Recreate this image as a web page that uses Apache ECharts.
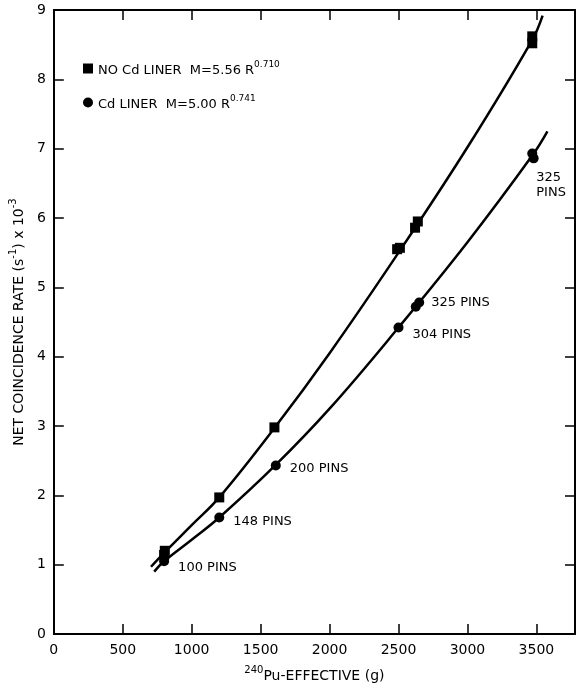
<!DOCTYPE html>
<html><head><meta charset="utf-8">
<script src="https://cdn.jsdelivr.net/npm/echarts@6/dist/echarts.min.js"></script>
<style>html,body{margin:0;padding:0;background:#fff}#c{width:584px;height:692px}</style>
</head><body><div id="c"></div>
<script>
// Data
const noCdPoints = [[800,1.14],[805,1.2],[1200,1.97],[1600,2.98],[2490,5.55],[2510,5.57],[2620,5.86],[2640,5.95],[3470,8.52],[3470,8.62]];
const cdPoints = [[800,1.05],[1200,1.68],[1610,2.43],[2500,4.42],[2625,4.72],[2650,4.78],[3470,6.93],[3480,6.86]];
const cdPointLabels = ['100 PINS','148 PINS','200 PINS','304 PINS','','325 PINS','325\nPINS',''];
const noCdCurve = [[705,0.97],[800,1.17],[1000,1.57],[1200,1.97],[1600,2.97],[2000,4.05],[2500,5.5],[3000,7.02],[3470,8.57],[3545,8.92]];
const cdCurve = [[728,0.9],[800,1.05],[1000,1.36],[1200,1.68],[1600,2.42],[2000,3.25],[2500,4.42],[3000,5.65],[3470,6.9],[3580,7.25]];
const xTicks = [0,500,1000,1500,2000,2500,3000,3500];
const yTicks = [0,1,2,3,4,5,6,7,8,9];

const FONT = 'DejaVu Sans';
const chart = echarts.init(document.getElementById('c'));
const labelOffsets = [[4,6],[4,4],[4,3],[4,7],[0,0],[2,0],[-6,32],[0,0]];
const cdData = cdPoints.map((p,i)=>({
  value:p,
  label:{show:!!cdPointLabels[i], formatter:cdPointLabels[i], position:'right', offset:labelOffsets[i],
    color:'#000', fontFamily:FONT, fontSize:13, lineHeight:15, align:'left'}
}));
const axisCommon = {
  min:0, axisLine:{show:true, onZero:false, lineStyle:{color:'#000', width:2}},
  axisTick:{show:true, inside:true, length:10, lineStyle:{color:'#000', width:1.5}},
  splitLine:{show:false}
};
chart.setOption({
  animation:false,
  backgroundColor:'#fff',
  grid:{left:51, top:10, right:9, bottom:58},
  legend:{
    left:78, top:55, orient:'vertical', itemGap:17, itemWidth:10, itemHeight:10,
    data:[{name:'noCd', icon:'rect'},{name:'cd', icon:'circle'}],
    formatter:function(n){
      return n==='noCd' ? '{t|NO Cd LINER  M=5.56 R}{s|0.710}' : '{t|Cd LINER  M=5.00 R}{s|0.741}';
    },
    textStyle:{rich:{
      t:{fontFamily:FONT, fontSize:13, color:'#000', verticalAlign:'bottom'},
      s:{fontFamily:FONT, fontSize:9, color:'#000', verticalAlign:'top', padding:[0,0,8,0]}
    }}
  },
  xAxis:[
    Object.assign({}, axisCommon, {type:'value', max:3780, interval:500, position:'bottom',
      axisLabel:{color:'#000', fontFamily:FONT, fontSize:14, margin:9, showMaxLabel:false,
        formatter:v=>xTicks.includes(v)?String(v):''},
      name:'{s|240}{t|Pu-EFFECTIVE (g)}', nameLocation:'middle', nameGap:31,
      nameTextStyle:{rich:{t:{fontFamily:FONT,fontSize:14,color:'#000',verticalAlign:'bottom'},
        s:{fontFamily:FONT,fontSize:10,color:'#000',verticalAlign:'top',padding:[0,0,8,0]}}}}),
    Object.assign({}, axisCommon, {type:'value', max:3780, interval:500, position:'top', axisLabel:{show:false}})
  ],
  yAxis:[
    Object.assign({}, axisCommon, {type:'value', max:9, interval:1, position:'left',
      axisLabel:{color:'#000', fontFamily:FONT, fontSize:14, margin:8,
        formatter:v=>yTicks.includes(v)?String(v):''},
      name:'{t|NET COINCIDENCE RATE (s}{s|-1}{t|) x 10}{s|-3}', nameLocation:'middle', nameGap:26, nameRotate:90,
      nameTextStyle:{rich:{t:{fontFamily:FONT,fontSize:14,color:'#000',verticalAlign:'bottom'},
        s:{fontFamily:FONT,fontSize:10,color:'#000',verticalAlign:'top',padding:[0,0,8,0]}}}}),
    Object.assign({}, axisCommon, {type:'value', max:9, interval:1, position:'right', axisLabel:{show:false}})
  ],
  series:[
    {name:'noCdCurve', type:'line', smooth:0.4, data:noCdCurve, showSymbol:false, symbol:'none',
      lineStyle:{color:'#000', width:2.5}, silent:true, z:2},
    {name:'cdCurve', type:'line', smooth:0.4, data:cdCurve, showSymbol:false, symbol:'none',
      lineStyle:{color:'#000', width:2.5}, silent:true, z:2},
    {name:'noCd', type:'scatter', symbol:'rect', symbolSize:10, data:noCdPoints,
      itemStyle:{color:'#000', opacity:1}, z:3},
    {name:'cd', type:'scatter', symbol:'circle', symbolSize:10, data:cdData,
      itemStyle:{color:'#000', opacity:1}, z:3}
  ]
});
</script></body></html>
